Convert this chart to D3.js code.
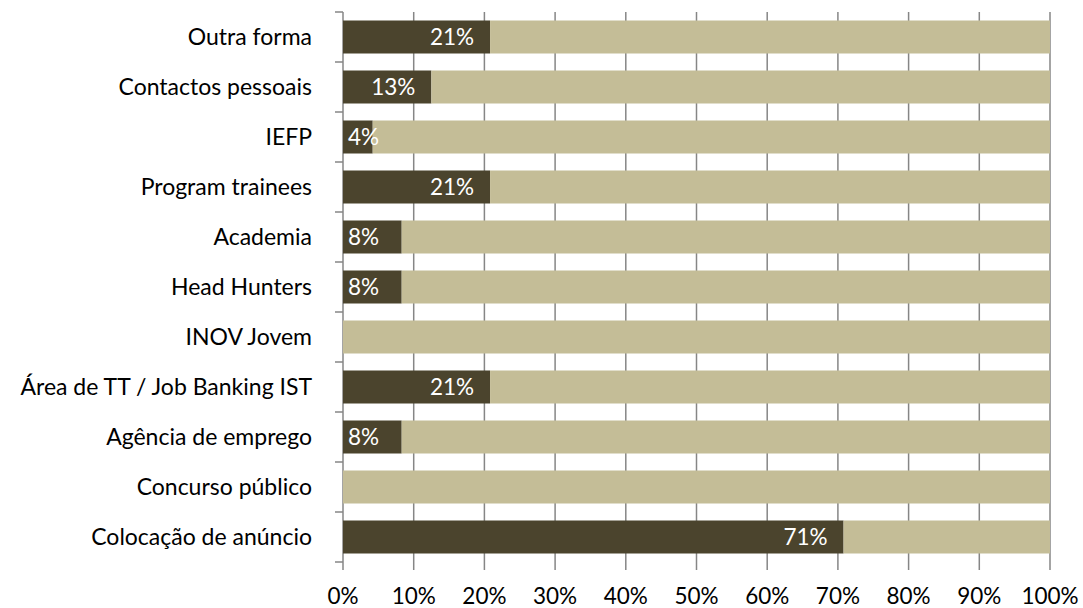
<!DOCTYPE html>
<html><head><meta charset="utf-8">
<script src="https://cdn.jsdelivr.net/npm/d3@7"></script>
<style>body{margin:0;background:#fff}text{font-family:Lato,"Open Sans",sans-serif}</style>
</head><body><svg id="c" width="1083" height="608"></svg>
<script>
const categories = ["Outra forma","Contactos pessoais","IEFP","Program trainees","Academia","Head Hunters","INOV Jovem","Área de TT / Job Banking IST","Agência de emprego","Concurso público","Colocação de anúncio"];
const valuesYes = [20.8,12.5,4.2,20.8,8.3,8.3,0,20.8,8.3,0,70.8];
const valuesNo = [79.2,87.5,95.8,79.2,91.7,91.7,100,79.2,91.7,100,29.2];
const xTicks = [0,10,20,30,40,50,60,70,80,90,100];
const colors = ["#4b442d","#c4bd97"];

const svg = d3.select("#c");
const x0 = 343, x1 = 1050, yTop = 12, yBot = 562;
const x = d3.scaleLinear().domain([0,100]).range([x0,x1]);
const y = d3.scaleBand().domain(categories).range([yTop,yBot]).paddingInner(0.34).paddingOuter(0.17);
const yb = d3.scaleBand().domain(categories).range([yTop,yBot]);

// gridlines
svg.append("g").selectAll("line").data(xTicks).join("line")
  .attr("x1",d=>x(d)).attr("x2",d=>x(d)).attr("y1",yTop).attr("y2",yBot+8)
  .attr("stroke","#868686").attr("stroke-width",1.5);

const stack = categories.map((c,i)=>({c, a:valuesYes[i], b:valuesNo[i]}));
const g = svg.append("g");
g.selectAll("rect.a").data(stack).join("rect").attr("class","a")
  .attr("x",x(0)).attr("y",d=>y(d.c)).attr("height",y.bandwidth())
  .attr("width",d=>x(d.a)-x(0)).attr("fill",colors[0]);
g.selectAll("rect.b").data(stack).join("rect").attr("class","b")
  .attr("x",d=>x(d.a)).attr("y",d=>y(d.c)).attr("height",y.bandwidth())
  .attr("width",d=>x(d.a+d.b)-x(d.a)).attr("fill",colors[1]);

// left axis ticks
svg.append("g").selectAll("line").data(d3.range(categories.length+1)).join("line")
  .attr("x1",x0-8).attr("x2",x0).attr("y1",d=>yTop+d*yb.step()).attr("y2",d=>yTop+d*yb.step())
  .attr("stroke","#868686").attr("stroke-width",1.5);

// value labels
g.selectAll("text.v").data(stack.filter(d=>d.a>0)).join("text").attr("class","v")
  .attr("x",d=>x(d.a)-16-44 < x0 ? x0+5 : x(d.a)-16)
  .attr("text-anchor",d=>x(d.a)-16-44 < x0 ? "start":"end")
  .attr("y",d=>y(d.c)+y.bandwidth()/2).attr("dy","0.36em")
  .attr("fill","#fff").attr("font-size","22.5px").text(d=>Math.round(d.a)+"%");

// category labels
svg.append("g").selectAll("text").data(categories).join("text")
  .attr("x",312).attr("y",d=>yb(d)+yb.bandwidth()/2).attr("dy","0.36em")
  .attr("text-anchor","end").attr("font-size","23px").attr("fill","#000").text(d=>d);

// x labels
svg.append("g").selectAll("text").data(xTicks).join("text")
  .attr("x",d=>x(d)).attr("y",604).attr("text-anchor","middle")
  .attr("font-size","22.5px").attr("fill","#000").text(d=>d+"%");
</script></body></html>
